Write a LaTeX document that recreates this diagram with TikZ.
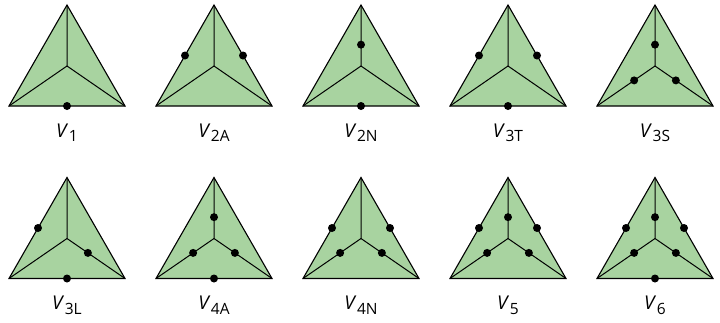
\documentclass[tikz,border=0pt]{standalone}
\usepackage{fontspec}
\setmainfont{Open Sans}
\usetikzlibrary{calc}
\definecolor{trigreen}{RGB}{168,211,160}
\tikzset{
  tribody/.style={fill=trigreen, draw=black, line width=1.1pt, line join=miter},
  spokeline/.style={draw=black, line width=1pt},
  dotmark/.style={circle, fill=black, draw=none, inner sep=0pt, minimum size=8pt},
  lab/.style={anchor=base, inner sep=0pt, font=\fontsize{19}{22}\selectfont}
}
\newcommand\labV[1]{\textit{V}\kern0.5pt\raisebox{-4.5pt}{\fontsize{15.5}{17}\selectfont #1}}
% #1 cx, #2 apex y, #3 name, #4 subscript, #5 dots
\newcommand\tetra[5]{%
  \coordinate (#3A) at (#1,#2);
  \coordinate (#3L) at ($(#1,#2)+(-58,101)$);
  \coordinate (#3R) at ($(#1,#2)+(58,101)$);
  \coordinate (#3O) at ($(#1,#2)+(0,61)$);
  \coordinate (#3b) at ($(#3L)!0.5!(#3R)$);
  \coordinate (#3l) at ($(#3L)!0.5!(#3A)$);
  \coordinate (#3r) at ($(#3R)!0.5!(#3A)$);
  \coordinate (#3t) at ($(#3O)!0.35!(#3A)$);
  \coordinate (#3sl) at ($(#3O)!0.36!(#3L)$);
  \coordinate (#3sr) at ($(#3O)!0.36!(#3R)$);
  \path[tribody] (#3A) -- (#3L) -- (#3R) -- cycle;
  \draw[spokeline] (#3A) -- (#3O) (#3L) -- (#3O) -- (#3R);
  \foreach \d in {#5} {\node[dotmark] (#3-\d) at (#3\d) {};}
  \node[lab] (#3lab) at ($(#3b)+(0,31)$) {\labV{#4}};
}
\begin{document}
\begin{tikzpicture}[x=1pt,y=-1pt]
  \useasboundingbox (0,0) rectangle (720,322);
  \tetra{67}{5}{a}{1}{b}
  \tetra{214}{5}{c}{2A}{l,r}
  \tetra{361}{5}{d}{2N}{t,b}
  \tetra{508}{5}{e}{3T}{l,r,b}
  \tetra{655}{5}{f}{3S}{t,sl,sr}
  \tetra{67}{177.5}{g}{3L}{l,sr,b}
  \tetra{214}{177.5}{h}{4A}{t,sl,sr,b}
  \tetra{361}{177.5}{i}{4N}{l,r,sl,sr}
  \tetra{508}{177.5}{j}{5}{l,r,t,sl,sr}
  \tetra{655}{177.5}{k}{6}{l,r,t,sl,sr,b}
\end{tikzpicture}
\end{document}
